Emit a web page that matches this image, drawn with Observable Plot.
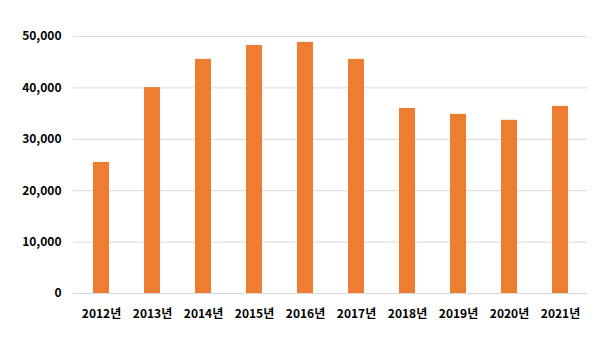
<!DOCTYPE html>
<html>
<head>
<meta charset="utf-8">
<script src="https://cdn.jsdelivr.net/npm/d3@7"></script>
<script src="https://cdn.jsdelivr.net/npm/@observablehq/plot@0.6"></script>
<style>
  html, body { margin: 0; padding: 0; background: #fff; }
  #chart svg { display: block; }
</style>
</head>
<body>
<div id="chart"></div>
<script>
const years = ["2012년","2013년","2014년","2015년","2016년","2017년","2018년","2019년","2020년","2021년"];
const values = [25500, 40050, 45550, 48250, 48850, 45550, 36000, 34850, 33700, 36400];
const yTicks = [0, 10000, 20000, 30000, 40000, 50000];

const data = years.map((y, i) => ({year: y, value: values[i]}));

const chart = Plot.plot({
  width: 611,
  height: 362,
  marginLeft: 73,
  marginRight: 24,
  marginTop: 36,
  marginBottom: 69,
  style: {fontFamily: "'Noto Sans CJK KR', 'Noto Sans', sans-serif", fontSize: "12px", fontWeight: "bold", color: "#000"},
  x: {domain: years, label: null, paddingInner: 0.69, paddingOuter: 0.345, tickSize: 0, tickPadding: 16},
  y: {domain: [0, 50000], label: null, ticks: yTicks, tickSize: 0, tickPadding: 12, tickFormat: d3.format(",")},
  marks: [
    Plot.gridY(yTicks, {stroke: "#d9d9d9", strokeOpacity: 1, strokeWidth: 1}),
    Plot.barY(data, {x: "year", y: "value", fill: "#ED7D31"})
  ]
});
document.getElementById("chart").appendChild(chart);
</script>
</body>
</html>
